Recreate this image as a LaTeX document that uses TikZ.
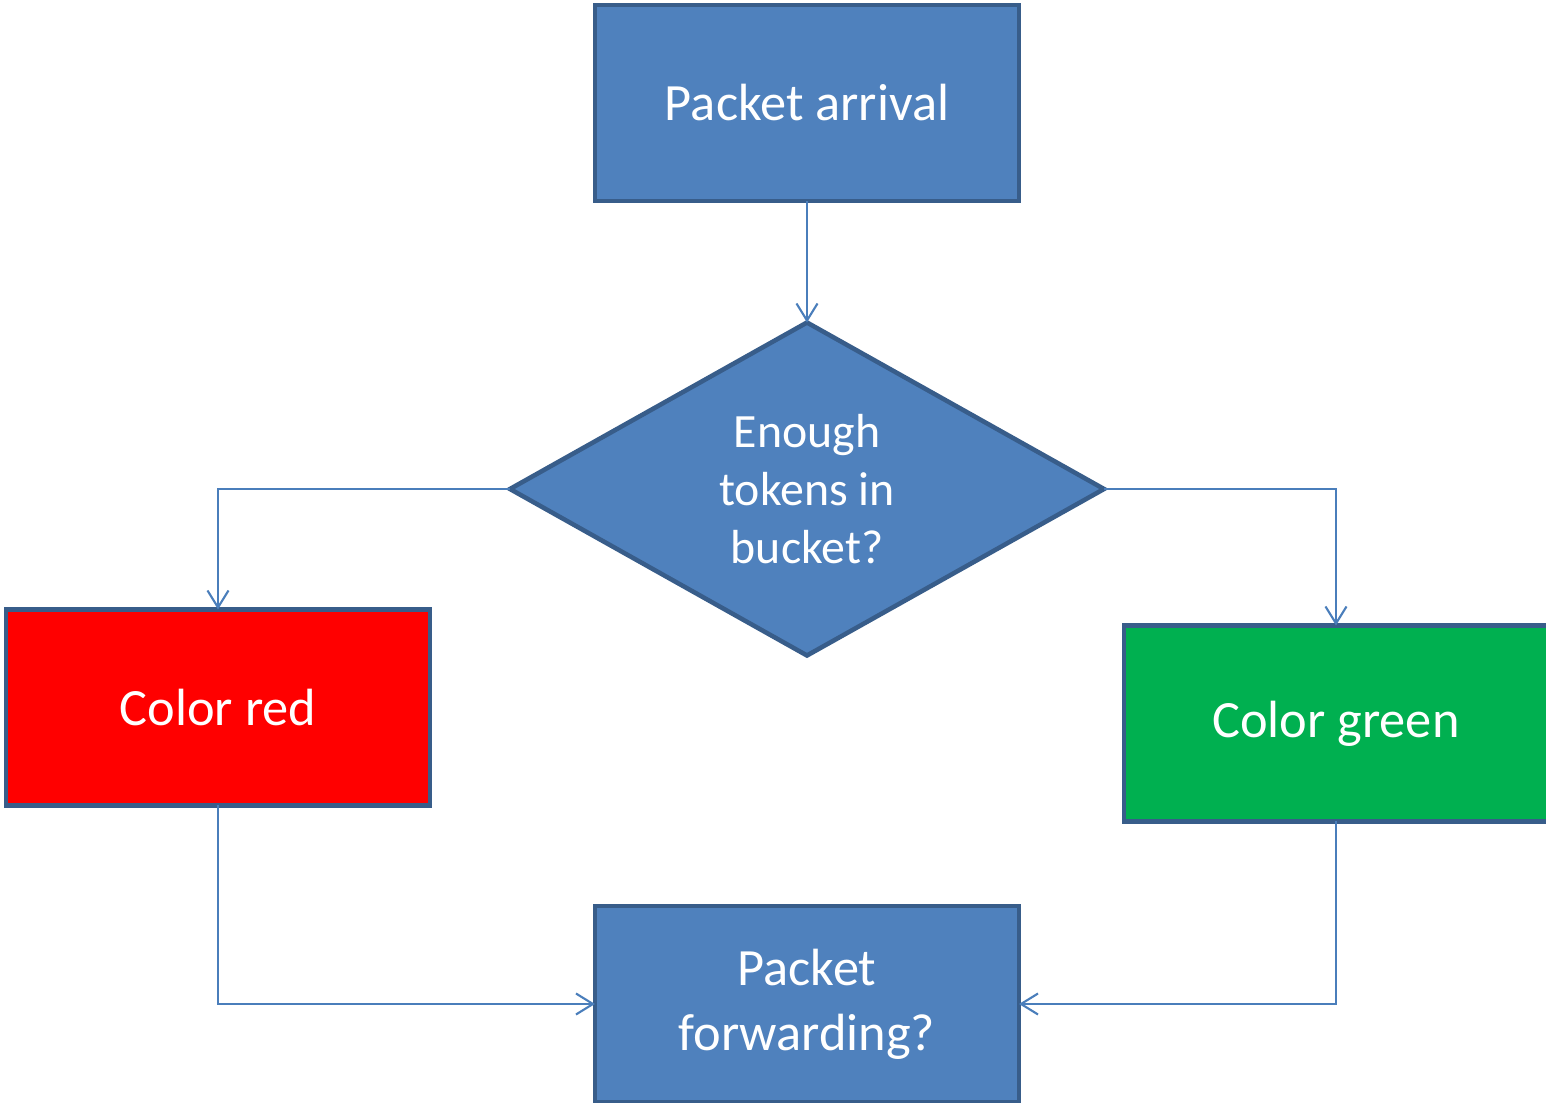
\documentclass[tikz,border=0pt]{standalone}
\usepackage{fontspec}
\setmainfont{Carlito}
\usepackage{tikz}
\usetikzlibrary{shapes.geometric,arrows.meta}
\definecolor{boxfill}{HTML}{4F81BD}
\definecolor{boxline}{HTML}{385D8A}
\definecolor{linkline}{HTML}{4A7EBB}
\definecolor{redfill}{HTML}{FF0000}
\definecolor{greenfill}{HTML}{00B050}

\begin{document}
\begin{tikzpicture}[
  every node/.style={text=white, align=center, outer sep=0pt, inner sep=0pt},
  stepbox/.style={rectangle, draw=boxline, line width=1.3pt, fill=boxfill,
    minimum width=4.24cm, minimum height=1.96cm,
    font=\fontsize{14.9}{18.5}\selectfont},
  decide/.style={diamond, draw=boxline, line width=1.3pt, fill=boxfill,
    minimum width=5.94cm, minimum height=3.33cm,
    font=\fontsize{13.6}{16.5}\selectfont},
  link/.style={draw=linkline, line width=0.6pt,
    -{Straight Barb[length=1.7mm,width=2.1mm]}}
]
\useasboundingbox (0,0) rectangle (15.46,-11.03);
\node[stepbox] (arrival) at (8.07,-1.03) {Packet arrival};
\node[decide] (check) at (8.07,-4.89) {Enough\\tokens in\\bucket?};
\node[stepbox, fill=redfill] (red) at (2.18,-7.075) {Color red};
\node[stepbox, fill=greenfill] (green) at (13.36,-7.235) {Color green};
\node[stepbox] (forward) at (8.07,-10.04) {Packet\\forwarding?};
\draw[link] (arrival) -- (check);
\draw[link] (check.west) -| (red.north);
\draw[link] (check.east) -| (green.north);
\draw[link] (red.south) |- (forward.west);
\draw[link] (green.south) |- (forward.east);
\end{tikzpicture}
\end{document}
